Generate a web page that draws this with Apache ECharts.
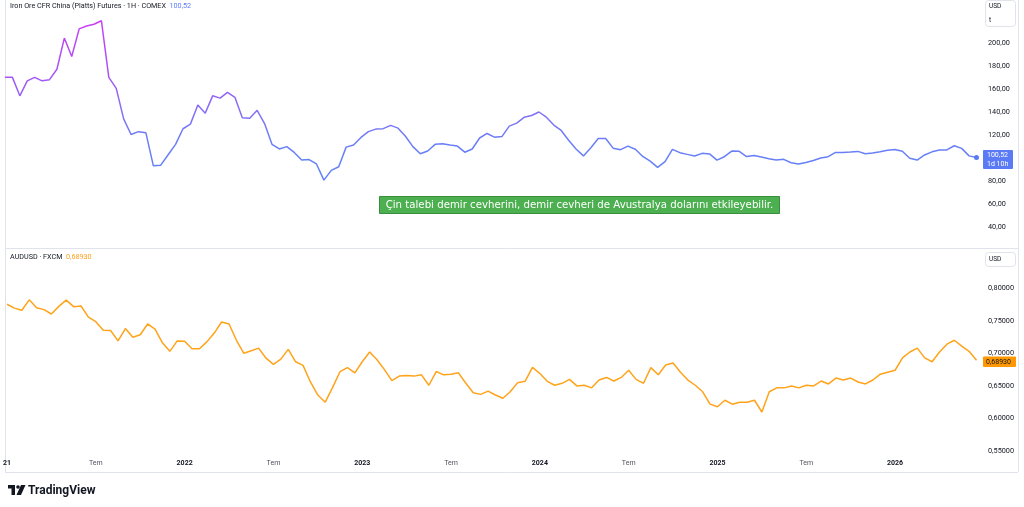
<!DOCTYPE html>
<html>
<head>
<meta charset="utf-8">
<script src="https://cdn.jsdelivr.net/npm/echarts@6/dist/echarts.min.js"></script>
<style>
  html, body { margin: 0; padding: 0; background: #fff; }
  #chart { width: 1024px; height: 507px; }
</style>
</head>
<body>
<div id="chart"></div>
<script>
  // half-monthly samples starting Jan 2021
  const startYear = 2021;
  const stepsPerYear = 24;

  const ironValues = [
    170, 170, 154, 167, 170, 167, 168, 177, 204, 188, 212, 214.5, 216, 219, 170, 160.5,
    134, 120.5, 123, 122, 93.5, 94, 103, 112, 125.5, 129.5, 146, 139, 154, 152, 157, 152.7,
    135, 134.5, 141.5, 130, 112, 108, 110, 105, 98.5, 98.8, 95, 81, 89.5, 92.6, 109.6, 111.5,
    118, 123, 125.2, 125.6, 128.4, 126, 119, 110, 103.8, 106.2, 112, 112.6, 111.4, 110.5, 105.2, 108,
    117.5, 121.4, 118.2, 118.7, 127.8, 130.4, 135.4, 137, 140, 135.5, 128.7, 124, 115.5, 108, 102, 109,
    117, 117, 108.7, 107.4, 110.5, 107.8, 101.5, 97.5, 92, 97, 107.6, 104.8, 103.3, 101.9, 104.2, 103.7,
    98.3, 101.3, 106.2, 106, 101.4, 102.3, 101, 99.6, 98.5, 99, 96.1, 95, 96.3, 98, 100.2, 101.3,
    105, 105, 105.4, 105.9, 103.8, 104.6, 105.6, 106.8, 107.5, 106, 100, 98.4, 102.8, 105.5, 107.1, 107.2,
    110.8, 108.5, 102, 100.52
  ];

  const audValues = [
    0.7752, 0.7693, 0.766, 0.782, 0.770, 0.767, 0.7603, 0.772, 0.7815, 0.7715, 0.7725, 0.7555, 0.7485, 0.7355, 0.735, 0.719,
    0.738, 0.7245, 0.7285, 0.745, 0.737, 0.716, 0.703, 0.719, 0.7185, 0.707, 0.707, 0.7175, 0.731, 0.748, 0.745, 0.720,
    0.700, 0.704, 0.708, 0.6925, 0.683, 0.691, 0.706, 0.687, 0.6815, 0.656, 0.636, 0.625, 0.6478, 0.672, 0.678, 0.670,
    0.687, 0.702, 0.690, 0.675, 0.658, 0.665, 0.666, 0.665, 0.667, 0.651, 0.672, 0.667, 0.668, 0.670, 0.654, 0.6396,
    0.637, 0.642, 0.636, 0.631, 0.641, 0.655, 0.657, 0.6785, 0.669, 0.657, 0.651, 0.654, 0.660, 0.650, 0.651, 0.647,
    0.659, 0.663, 0.6575, 0.663, 0.674, 0.660, 0.654, 0.678, 0.667, 0.682, 0.685, 0.671, 0.659, 0.651, 0.641, 0.622,
    0.618, 0.628, 0.622, 0.625, 0.625, 0.628, 0.610, 0.641, 0.647, 0.647, 0.650, 0.647, 0.651, 0.650, 0.6575, 0.653,
    0.662, 0.659, 0.662, 0.656, 0.653, 0.659, 0.668, 0.671, 0.674, 0.693, 0.702, 0.708, 0.693, 0.687, 0.702, 0.714,
    0.720, 0.711, 0.703, 0.6893
  ];

  const ironLabel = '100,52';
  const audLabel = '0,68930';
  const note = 'Çin talebi demir cevherini, demir cevheri de Avustralya dolarını etkileyebilir.';

  const toPairs = vals => vals.map((v, i) => [startYear + i / stepsPerYear, v]);

  const myChart = echarts.init(document.getElementById('chart'));
  const font = 'Roboto, sans-serif';
  const border = '#e0e3eb';
  const textDark = '#131722';

  const legendTitle = (top, name, value, color) => ({
    left: 10, top: top, padding: 0,
    text: '{n|' + name + '}  {v|' + value + '}',
    textStyle: {
      fontSize: 7.2, fontWeight: 'normal', lineHeight: 8, fontFamily: font,
      rich: {
        n: { fontSize: 7.2, lineHeight: 8, color: textDark, fontFamily: font },
        v: { fontSize: 7.2, lineHeight: 8, color: color, fontFamily: font }
      }
    }
  });

  myChart.setOption({
    backgroundColor: '#fff',
    animation: false,
    title: [
      legendTitle(2, 'Iron Ore CFR China (Platts) Futures · 1H · COMEX', ironLabel, '#5b7bf6'),
      legendTitle(253, 'AUDUSD · FXCM', audLabel, '#ff9f1a')
    ],
    grid: [
      { left: 5, right: 44, top: 8.05, height: 231 },
      { left: 5, right: 44, top: 255.5, height: 195.6 }
    ],
    xAxis: [
      {
        gridIndex: 0, type: 'value', min: 2021, max: 2026.478, interval: 0.5,
        axisLine: { show: false }, axisTick: { show: false },
        axisLabel: { show: false }, splitLine: { show: false }
      },
      {
        gridIndex: 1, type: 'value', min: 2021, max: 2026.478, interval: 0.5,
        axisLine: { show: false }, axisTick: { show: false }, splitLine: { show: false },
        axisLabel: {
          margin: 9, showMinLabel: true, showMaxLabel: false,
          fontFamily: font, fontSize: 7, color: textDark,
          formatter: v => {
            const y = Math.round(v * 2) / 2;
            if (y % 1 !== 0) return '{m|Tem}';
            if (y === 2021) return '{y|21}';
            return '{y|' + y + '}';
          },
          rich: {
            y: { fontSize: 7, fontWeight: 'bold', color: textDark, fontFamily: font },
            m: { fontSize: 7, color: '#50535e', fontFamily: font }
          }
        }
      }
    ],
    yAxis: [
      {
        gridIndex: 0, type: 'value', position: 'right', min: 30, max: 230, interval: 10,
        axisLine: { show: false }, axisTick: { show: false }, splitLine: { show: false },
        axisLabel: {
          margin: 8, fontFamily: font, fontSize: 7.3, color: textDark,
          formatter: v => {
            const r = Math.round(v);
            if (r % 20 !== 0 || r > 200 || r === 100) return '';
            return r.toFixed(2).replace('.', ',');
          }
        }
      },
      {
        gridIndex: 1, type: 'value', position: 'right', min: 0.55, max: 0.85, interval: 0.05,
        axisLine: { show: false }, axisTick: { show: false }, splitLine: { show: false },
        axisLabel: {
          margin: 8, fontFamily: font, fontSize: 7.3, color: textDark,
          formatter: v => v > 0.84 ? '' : v.toFixed(5).replace('.', ',')
        }
      }
    ],
    series: [
      {
        name: 'Iron Ore', type: 'line', xAxisIndex: 0, yAxisIndex: 0,
        data: toPairs(ironValues),
        symbol: 'circle', showSymbol: true,
        symbolSize: (val, p) => p.dataIndex === ironValues.length - 1 ? 5 : 0,
        itemStyle: { color: '#5b7bf6' },
        lineStyle: {
          width: 1.5,
          color: { type: 'linear', x: 0, y: 0, x2: 0, y2: 1, colorStops: [
            { offset: 0, color: '#c93ef5' },
            { offset: 0.36, color: '#a457f5' },
            { offset: 0.57, color: '#8470f6' },
            { offset: 0.75, color: '#6b7ef7' },
            { offset: 1, color: '#5f82f7' }
          ] }
        }
      },
      {
        name: 'AUDUSD', type: 'line', xAxisIndex: 1, yAxisIndex: 1,
        data: toPairs(audValues),
        showSymbol: false,
        lineStyle: { width: 1.5, color: '#ffa31a' }
      }
    ],
    graphic: [
      // pane frame
      { type: 'line', shape: { x1: 5.5, y1: 0, x2: 5.5, y2: 472 }, style: { stroke: border, lineWidth: 1 } },
      { type: 'line', shape: { x1: 1018.5, y1: 0, x2: 1018.5, y2: 472 }, style: { stroke: border, lineWidth: 1 } },
      { type: 'line', shape: { x1: 5, y1: 248.5, x2: 1018, y2: 248.5 }, style: { stroke: border, lineWidth: 1 } },
      { type: 'line', shape: { x1: 5, y1: 472.5, x2: 1018, y2: 472.5 }, style: { stroke: border, lineWidth: 1 } },
      // unit boxes
      { type: 'rect', shape: { x: 985.5, y: 0.5, width: 30, height: 26, r: 3 }, style: { fill: '#fff', stroke: border } },
      { type: 'text', x: 989, y: 6, style: { text: 'USD', fontSize: 6.5, fontFamily: font, fill: textDark, verticalAlign: 'middle' } },
      { type: 'text', x: 989, y: 20.5, style: { text: 't', fontSize: 6.5, fontFamily: font, fill: textDark, verticalAlign: 'middle' } },
      { type: 'rect', shape: { x: 985.5, y: 252.5, width: 30, height: 14, r: 3 }, style: { fill: '#fff', stroke: border } },
      { type: 'text', x: 989, y: 259.5, style: { text: 'USD', fontSize: 6.5, fontFamily: font, fill: textDark, verticalAlign: 'middle' } },
      // last price labels
      { type: 'rect', z: 10, shape: { x: 983, y: 150, width: 30, height: 19, r: 1 }, style: { fill: '#5b7bf6' } },
      { type: 'text', z: 11, x: 987, y: 155.5, style: { text: ironLabel, fontSize: 7, fontFamily: font, fill: '#fff', verticalAlign: 'middle' } },
      { type: 'text', z: 11, x: 987, y: 164, style: { text: '1d 10h', fontSize: 7, fontFamily: font, fill: '#fff', verticalAlign: 'middle' } },
      { type: 'rect', z: 10, shape: { x: 983, y: 356.5, width: 33, height: 10.5, r: 1 }, style: { fill: '#ff9800' } },
      { type: 'text', z: 11, x: 986, y: 361.8, style: { text: audLabel, fontSize: 7, fontFamily: font, fill: textDark, verticalAlign: 'middle' } },
      // annotation
      { type: 'rect', z: 10, shape: { x: 379.5, y: 196.5, width: 400, height: 17 }, style: { fill: '#4caf50', stroke: '#388e3c', lineWidth: 1 } },
      { type: 'text', z: 11, x: 579.5, y: 205, style: { text: note, fontSize: 10.2, fontFamily: '"DejaVu Sans", sans-serif', fill: '#fff', align: 'center', verticalAlign: 'middle' } },
      // TradingView logo
      { type: 'rect', shape: { x: 8, y: 485, width: 7, height: 3.5 }, style: { fill: '#131722' } },
      { type: 'rect', shape: { x: 11.5, y: 485, width: 3.5, height: 10 }, style: { fill: '#131722' } },
      { type: 'circle', shape: { cx: 18, cy: 487, r: 1.8 }, style: { fill: '#131722' } },
      { type: 'polygon', shape: { points: [[21, 485], [25.5, 485], [21, 495], [16.5, 495]] }, style: { fill: '#131722' } },
      { type: 'text', x: 28, y: 490.5, style: { text: 'TradingView', fontSize: 12, fontWeight: 'bold', fontFamily: font, fill: '#131722', verticalAlign: 'middle' } }
    ]
  });
</script>
</body>
</html>
